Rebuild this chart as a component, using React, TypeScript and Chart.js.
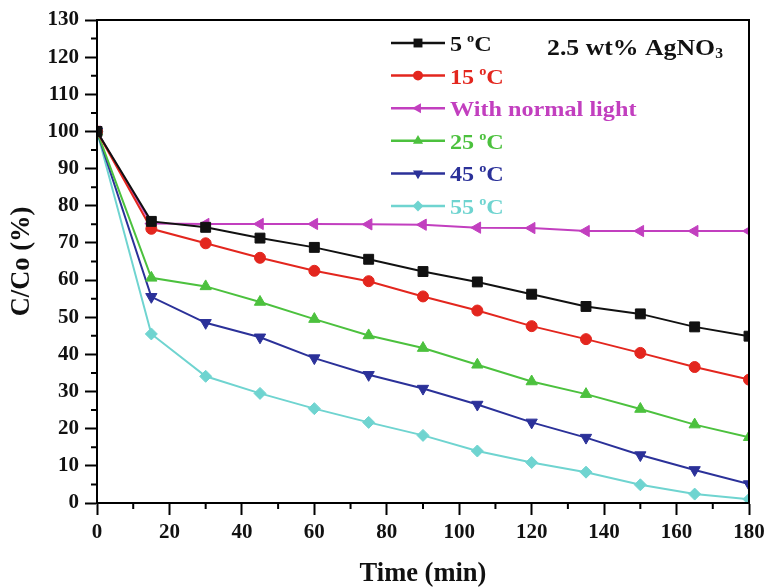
import React, { useEffect, useRef } from "react";
import { Chart, registerables } from "chart.js";

Chart.register(...registerables);

const times = [0, 15, 30, 45, 60, 75, 90, 105, 120, 135, 150, 165, 180];
const c5 = [100, 75.8, 74.2, 71.3, 68.8, 65.6, 62.3, 59.5, 56.2, 52.9, 50.9, 47.4, 44.9];
const c15 = [100, 73.8, 69.9, 66.0, 62.5, 59.7, 55.6, 51.8, 47.6, 44.1, 40.4, 36.6, 33.2];
const cLight = [100, 75.2, 75.1, 75.1, 75.1, 75.0, 74.9, 74.1, 74.0, 73.2, 73.2, 73.2, 73.2];
const c25 = [100, 60.6, 58.3, 54.1, 49.5, 45.1, 41.7, 37.2, 32.7, 29.3, 25.3, 21.1, 17.7];
const c45 = [100, 55.5, 48.5, 44.6, 39.0, 34.5, 30.8, 26.5, 21.7, 17.6, 12.9, 8.9, 5.1];
const c55 = [100, 45.5, 34.1, 29.5, 25.4, 21.7, 18.2, 14.0, 10.9, 8.3, 4.9, 2.4, 1.0];

const seriesNames = ["5", "15", "With normal light", "25", "45", "55"];
const seriesValues = [c5, c15, cLight, c25, c45, c55];
const seriesColors = ["#111111", "#e3261e", "#c23fbf", "#4cc13e", "#2b3199", "#6fd4d0"];
const seriesShapes = ["rect", "circle", "triangle", "triangle", "triangle", "rectRot"];
const seriesRot = [0, 0, 270, 0, 180, 0];
const seriesRadius = [7, 5.5, 6.5, 6.5, 6.5, 6];
const seriesIsTemp = [true, true, false, true, true, true];

const xTicks = [0, 180, 20, 10];
const yTicks = [0, 130, 10, 5];

const FONT = "'Liberation Serif', 'Times New Roman', serif";

function drawMarker(ctx: CanvasRenderingContext2D, shape: string, rot: number, r: number, x: number, y: number, color: string) {
  ctx.save();
  ctx.fillStyle = color;
  ctx.strokeStyle = color;
  ctx.translate(x, y);
  ctx.rotate((rot * Math.PI) / 180);
  ctx.beginPath();
  if (shape === "rect") {
    const s = r * Math.SQRT1_2;
    ctx.rect(-s, -s, 2 * s, 2 * s);
  } else if (shape === "circle") {
    ctx.arc(0, 0, r, 0, Math.PI * 2);
  } else if (shape === "triangle") {
    for (let i = 0; i < 3; i++) {
      const a = -Math.PI / 2 + (i * 2 * Math.PI) / 3;
      const px = Math.cos(a) * r;
      const py = Math.sin(a) * r;
      if (i === 0) ctx.moveTo(px, py);
      else ctx.lineTo(px, py);
    }
    ctx.closePath();
  } else if (shape === "rectRot") {
    ctx.moveTo(0, -r);
    ctx.lineTo(r, 0);
    ctx.lineTo(0, r);
    ctx.lineTo(-r, 0);
    ctx.closePath();
  }
  ctx.fill();
  ctx.restore();
}

const decorPlugin = {
  id: "decor",
  afterDraw(chart: any) {
    const ctx: CanvasRenderingContext2D = chart.ctx;
    const { left, right, top, bottom } = chart.chartArea;
    const xs = chart.scales.x;
    const ys = chart.scales.y;
    ctx.save();
    // frame
    ctx.strokeStyle = "#000";
    ctx.lineWidth = 2;
    ctx.strokeRect(left, top, right - left, bottom - top);
    // minor ticks
    ctx.beginPath();
    for (let v = yTicks[0] + yTicks[3]; v < yTicks[1]; v += yTicks[2]) {
      const py = ys.getPixelForValue(v);
      ctx.moveTo(left - 6, py);
      ctx.lineTo(left, py);
    }
    for (let v = xTicks[0] + xTicks[3]; v < xTicks[1]; v += xTicks[2]) {
      const px = xs.getPixelForValue(v);
      ctx.moveTo(px, bottom);
      ctx.lineTo(px, bottom + 6);
    }
    ctx.stroke();

    // legend
    const lx0 = 391, lx1 = 445, mx = 418, tx = 450;
    const ly0 = 43, dy = 32.6;
    const sx = 1.1;
    seriesNames.forEach((name, i) => {
      const y = ly0 + i * dy;
      const col = seriesColors[i];
      ctx.strokeStyle = col;
      ctx.lineWidth = 2.5;
      ctx.beginPath();
      ctx.moveTo(lx0, y);
      ctx.lineTo(lx1, y);
      ctx.stroke();
      drawMarker(ctx, seriesShapes[i], seriesRot[i], seriesRadius[i] * 0.9, mx, y, col);
      ctx.save();
      ctx.translate(tx, y + 8);
      ctx.scale(sx, 1);
      ctx.fillStyle = col;
      ctx.textBaseline = "alphabetic";
      ctx.textAlign = "left";
      ctx.font = `bold 22px ${FONT}`;
      if (seriesIsTemp[i]) {
        const t1 = name + " ";
        ctx.fillText(t1, 0, 0);
        let w = ctx.measureText(t1).width;
        ctx.font = `bold 13px ${FONT}`;
        ctx.fillText("o", w - 1, -9);
        w += ctx.measureText("o").width - 1;
        ctx.font = `bold 22px ${FONT}`;
        ctx.fillText("C", w, 0);
      } else {
        ctx.fillText(name, 0, 0);
      }
      ctx.restore();
    });

    // annotation
    ctx.save();
    ctx.translate(547, 55);
    ctx.scale(1.12, 1);
    ctx.fillStyle = "#111";
    ctx.font = `bold 23px ${FONT}`;
    const ann = "2.5 wt% AgNO";
    ctx.fillText(ann, 0, 0);
    const aw = ctx.measureText(ann).width;
    ctx.font = `bold 14px ${FONT}`;
    ctx.fillText("3", aw, 3);
    ctx.restore();
    ctx.restore();
  },
};

export default function App() {
  const ref = useRef<HTMLCanvasElement>(null);
  useEffect(() => {
    document.body.style.margin = "0";
    const datasets = seriesNames.map((name, i) => ({
      label: name,
      data: times.map((t, j) => ({ x: t, y: seriesValues[i][j] })),
      borderColor: seriesColors[i],
      backgroundColor: seriesColors[i],
      borderWidth: 2,
      pointStyle: seriesShapes[i],
      rotation: seriesRot[i],
      pointRadius: seriesRadius[i],
      pointBorderWidth: 1,
      tension: 0,
    }));
    const tickFont = { family: FONT, size: 21, weight: "bold" as const };
    const chart = new Chart(ref.current!, {
      type: "line",
      data: { datasets },
      options: {
        animation: false,
        responsive: true,
        maintainAspectRatio: false,
        layout: { padding: { top: 20, right: 21, left: 0, bottom: 0 } },
        plugins: { legend: { display: false }, tooltip: { enabled: false } },
        scales: {
          x: {
            type: "linear",
            min: xTicks[0],
            max: xTicks[1],
            ticks: { stepSize: xTicks[2], color: "#111", font: tickFont, padding: 5, maxRotation: 0 },
            grid: { drawOnChartArea: false, tickLength: 12, tickWidth: 2, tickColor: "#000" },
            border: { color: "#000", width: 2 },
            title: {
              display: true,
              text: "Time (min)",
              color: "#111",
              font: { family: FONT, size: 26.5, weight: "bold", lineHeight: 1 },
              padding: { top: 0, bottom: 0 },
            },
            afterFit: (s: any) => {
              s.height = 84;
            },
          },
          y: {
            type: "linear",
            min: yTicks[0],
            max: yTicks[1],
            ticks: { stepSize: yTicks[2], color: "#111", font: tickFont, padding: 6 },
            grid: { drawOnChartArea: false, tickLength: 12, tickWidth: 2, tickColor: "#000" },
            border: { color: "#000", width: 2 },
            title: {
              display: true,
              text: "C/Co (%)",
              color: "#111",
              font: { family: FONT, size: 26.5, weight: "bold", lineHeight: 1 },
              padding: { top: 9, bottom: 0 },
            },
            afterFit: (s: any) => {
              s.width = 97;
            },
          },
        },
      },
      plugins: [decorPlugin],
    });
    return () => chart.destroy();
  }, []);
  return (
    <div style={{ position: "absolute", left: 0, top: 0, width: 770, height: 587, background: "#fff" }}>
      <canvas ref={ref} />
    </div>
  );
}
